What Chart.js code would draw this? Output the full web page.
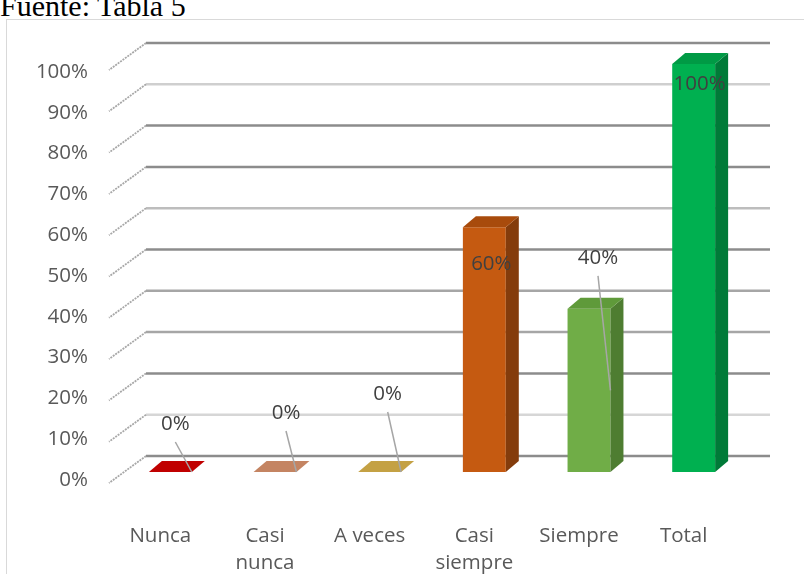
<!DOCTYPE html>
<html>
<head>
<meta charset="utf-8">
<script src="https://cdn.jsdelivr.net/npm/chart.js@4.4.0/dist/chart.umd.min.js"></script>
<style>
body { margin: 0; background: #fff; overflow: hidden; }
#wrap { position: relative; width: 804px; height: 574px; overflow: hidden; }
#fuente { position: absolute; left: 0; top: -9px; font-family: "Liberation Serif", serif; font-size: 30px; line-height: 30px; color: #000; white-space: nowrap; }
#frame { position: absolute; left: 6px; top: 19px; width: 820px; height: 600px; border-left: 1px solid #d9d9d9; border-top: 1px solid #d9d9d9; }
#myChart { position: absolute; left: 0; top: 0; }
</style>
</head>
<body>
<div id="wrap">
  <div id="fuente">Fuente: Tabla 5</div>
  <div id="frame"></div>
  <canvas id="myChart" width="804" height="574"></canvas>
</div>
<script>
// data
var categories = [['Nunca'], ['Casi', 'nunca'], ['A veces'], ['Casi', 'siempre'], ['Siempre'], ['Total']];
var values = [0, 0, 0, 0.6, 0.4, 1];
var valueLabels = ['0%', '0%', '0%', '60%', '40%', '100%'];
var yTickLabels = ['0%', '10%', '20%', '30%', '40%', '50%', '60%', '70%', '80%', '90%', '100%'];

// styles
var frontColors = ['#C00000', '#C98866', '#C9A648', '#C55A11', '#70AD47', '#00B050'];
var topColors   = ['#C00000', '#C48462', '#C4A144', '#A84B0C', '#5F9A3A', '#009A45'];
var sideColors  = ['#8A0000', '#9A6248', '#967A30', '#843C0C', '#4E7D31', '#007A38'];
var depth = { dx: 13, dy: -11 };
var wall = { left: 146, right: 770, top: 43, bottom: 456 };
var gridShade = ['#8c8c8c', '#d6d6d6', '#8c8c8c', '#a6a6a6', '#a6a6a6', '#8c8c8c', '#bdbdbd', '#8c8c8c', '#8c8c8c', '#cfcfcf', '#8c8c8c'];
// label nudges from bar centre / top, and whether a leader line is drawn
var labelNudge = [[5, -48], [11, -59], [8, -78], [7, 37], [9, -51], [6, 20]];
var leader = [true, true, true, false, true, false];
var textColor = '#595959';

function poly(ctx, pts) {
  ctx.beginPath();
  ctx.moveTo(pts[0][0], pts[0][1]);
  for (var i = 1; i < pts.length; i++) ctx.lineTo(pts[i][0], pts[i][1]);
  ctx.closePath();
  ctx.fill();
}

var wallPlugin = {
  id: 'wall',
  beforeDatasetsDraw: function (chart) {
    var ctx = chart.ctx, ys = chart.scales.y, area = chart.chartArea;
    var k = (wall.bottom - wall.top) / (area.bottom - area.top);
    ctx.save();
    ys.ticks.forEach(function (t, i) {
      var y = wall.bottom + (ys.getPixelForValue(t.value) - area.bottom) * k;
      ctx.strokeStyle = gridShade[i];
      ctx.lineWidth = 2.5;
      ctx.setLineDash([]);
      ctx.beginPath();
      ctx.moveTo(wall.left, y);
      ctx.lineTo(wall.right, y);
      ctx.stroke();
      ctx.strokeStyle = '#a8a8a8';
      ctx.lineWidth = 1.8;
      ctx.setLineDash([2, 1]);
      ctx.beginPath();
      ctx.moveTo(wall.left, y);
      ctx.lineTo(wall.left - 37, y + 27);
      ctx.stroke();
    });
    ctx.restore();
  }
};

var boxPlugin = {
  id: 'box3d',
  afterDatasetsDraw: function (chart) {
    var ctx = chart.ctx;
    var meta = chart.getDatasetMeta(0);
    ctx.save();
    meta.data.forEach(function (bar, i) {
      var p = bar.getProps(['x', 'y', 'base', 'width'], true);
      var l = p.x - p.width / 2, r = p.x + p.width / 2, t = p.y, b = p.base;
      ctx.fillStyle = sideColors[i];
      poly(ctx, [[r, t], [r + depth.dx, t + depth.dy], [r + depth.dx, b + depth.dy], [r, b]]);
      ctx.fillStyle = topColors[i];
      poly(ctx, [[l, t], [l + depth.dx, t + depth.dy], [r + depth.dx, t + depth.dy], [r, t]]);
    });
    // value labels
    ctx.font = '20.5px "Open Sans"';
    ctx.textAlign = 'center';
    ctx.textBaseline = 'middle';
    meta.data.forEach(function (bar, i) {
      var p = bar.getProps(['x', 'y', 'base', 'width'], true);
      var lx = p.x + labelNudge[i][0], ly = p.y + labelNudge[i][1];
      if (leader[i]) {
        ctx.strokeStyle = '#a6a6a6';
        ctx.lineWidth = 1.5;
        ctx.beginPath();
        ctx.moveTo(lx, ly + 18);
        ctx.lineTo(p.x + p.width / 2, (p.y + p.base) / 2);
        ctx.stroke();
      }
      ctx.fillStyle = '#404040';
      ctx.fillText(valueLabels[i], lx, ly);
    });
    ctx.restore();
  }
};

var ctx = document.getElementById('myChart').getContext('2d');
var myChart = new Chart(ctx, {
  type: 'bar',
  data: {
    labels: categories,
    datasets: [{
      data: values,
      backgroundColor: frontColors,
      borderWidth: 0,
      barPercentage: 0.41,
      categoryPercentage: 1
    }]
  },
  options: {
    responsive: false,
    animation: false,
    layout: { padding: { top: 64, right: 58, bottom: 0, left: 0 } },
    plugins: { legend: { display: false }, tooltip: { enabled: false } },
    scales: {
      x: {
        grid: { display: false },
        border: { display: false },
        ticks: {
          color: textColor,
          font: { family: 'Open Sans', size: 20.5, lineHeight: 1.32 },
          padding: 43,
          labelOffset: -10,
          maxRotation: 0,
          autoSkip: false
        },
        afterFit: function (s) { s.height = 102; }
      },
      y: {
        min: 0,
        max: 1,
        grid: { display: false, drawTicks: false },
        border: { display: false },
        ticks: {
          stepSize: 0.1,
          color: textColor,
          font: { family: 'Open Sans', size: 20.5 },
          padding: 30,
          labelOffset: 8,
          callback: function (v, i) { return yTickLabels[i]; }
        },
        afterFit: function (s) { s.width = 118; }
      }
    }
  },
  plugins: [wallPlugin, boxPlugin]
});
</script>
</body>
</html>
